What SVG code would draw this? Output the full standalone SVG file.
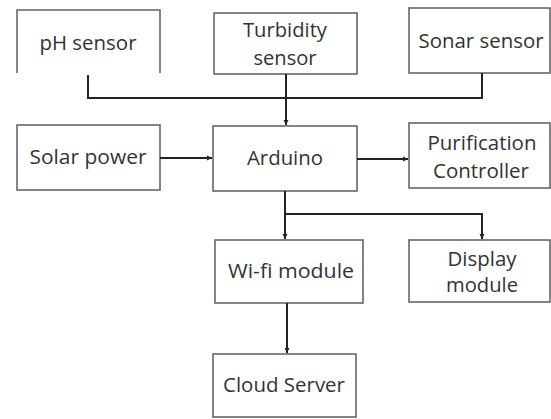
<svg xmlns="http://www.w3.org/2000/svg" width="551" height="419" viewBox="0 0 551 419">
<style>
.box{fill:#fff;stroke:#666;stroke-width:1.6}
.t{font-family:"Open Sans","Noto Sans",sans-serif;font-size:19.5px;fill:#333;text-anchor:middle}
.c{fill:none;stroke:#222;stroke-width:2}
</style>
<defs>
<marker id="ah" markerWidth="6" markerHeight="6" refX="5" refY="3" orient="auto" markerUnits="userSpaceOnUse">
<path d="M0,0.5 L5,3 L0,5.5 Z" fill="#222"/>
</marker>
</defs>
<rect width="551" height="419" fill="#fff"/>
<g id="ph">
<path class="box" d="M17,73 V10 H160 V73" fill="none"/>
<text class="t" x="88" y="50" textLength="97" lengthAdjust="spacingAndGlyphs">pH sensor</text>
</g>
<g id="turbidity">
<rect class="box" x="214" y="13" width="143" height="61"/>
<text class="t" x="285" y="37" textLength="84" lengthAdjust="spacingAndGlyphs">Turbidity</text>
<text class="t" x="285" y="65" textLength="63" lengthAdjust="spacingAndGlyphs">sensor</text>
</g>
<g id="sonar">
<rect class="box" x="409" y="8" width="141" height="65"/>
<text class="t" x="481" y="48" textLength="125" lengthAdjust="spacingAndGlyphs">Sonar sensor</text>
</g>
<g id="solar">
<rect class="box" x="17" y="125" width="143" height="65"/>
<text class="t" x="88" y="164" textLength="117" lengthAdjust="spacingAndGlyphs">Solar power</text>
</g>
<g id="arduino">
<rect class="box" x="213" y="126" width="144" height="65"/>
<text class="t" x="285" y="165" textLength="76" lengthAdjust="spacingAndGlyphs">Arduino</text>
</g>
<g id="purification">
<rect class="box" x="409" y="123" width="141" height="65"/>
<text class="t" x="482" y="150" textLength="109" lengthAdjust="spacingAndGlyphs">Purification</text>
<text class="t" x="481" y="178" textLength="96" lengthAdjust="spacingAndGlyphs">Controller</text>
</g>
<g id="wifi">
<rect class="box" x="215" y="240" width="148" height="63"/>
<text class="t" x="291" y="278" textLength="126" lengthAdjust="spacingAndGlyphs">Wi-fi module</text>
</g>
<g id="display">
<rect class="box" x="409" y="240" width="141" height="62"/>
<text class="t" x="482" y="266" textLength="69" lengthAdjust="spacingAndGlyphs">Display</text>
<text class="t" x="482" y="292" textLength="72" lengthAdjust="spacingAndGlyphs">module</text>
</g>
<g id="cloud">
<rect class="box" x="213" y="354" width="143" height="63"/>
<text class="t" x="284" y="392" textLength="122" lengthAdjust="spacingAndGlyphs">Cloud Server</text>
</g>
<g id="connectors">
<path class="c" d="M88,75 V98 H482 V73"/>
<path class="c" d="M286,74 V125" marker-end="url(#ah)"/>
<path class="c" d="M160,158 H212" marker-end="url(#ah)"/>
<path class="c" d="M357,159 H408" marker-end="url(#ah)"/>
<path class="c" d="M285,191 V239" marker-end="url(#ah)"/>
<path class="c" d="M285,214 H482 V239" marker-end="url(#ah)"/>
<path class="c" d="M287,303 V353" marker-end="url(#ah)"/>
</g>
</svg>
